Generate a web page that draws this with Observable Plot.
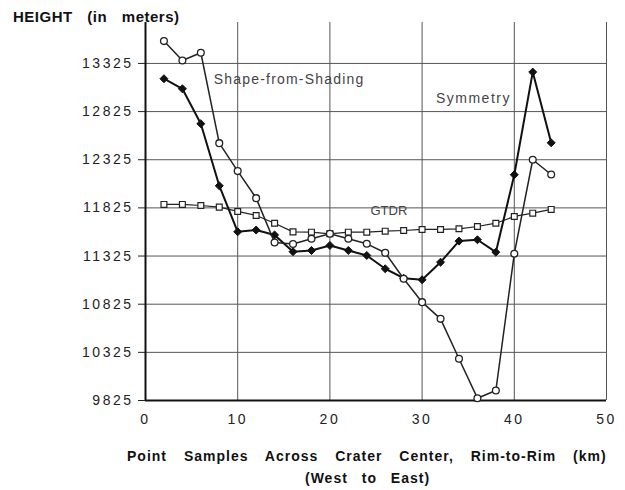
<!DOCTYPE html>
<html>
<head>
<meta charset="utf-8">
<script src="https://cdn.jsdelivr.net/npm/d3@7"></script>
<script src="https://cdn.jsdelivr.net/npm/@observablehq/plot@0.6"></script>
<style>
  html, body { margin: 0; padding: 0; background: #fff; }
  #chart svg { display: block; }
</style>
</head>
<body>
<div id="chart"></div>
<script>
// Sample positions along the profile (km)
const samples = [2, 4, 6, 8, 10, 12, 14, 16, 18, 20, 22, 24, 26, 28, 30, 32, 34, 36, 38, 40, 42, 44];
// Open circles (Shape-from-Shading)
const shadingHeights = [13557, 13356, 13436, 12497, 12207, 11926, 11466, 11450, 11504, 11556, 11504, 11452, 11359, 11089, 10846, 10673, 10258, 9849, 9929, 11349, 12325, 12172];
// Filled diamonds (Symmetry)
const symmetryHeights = [13166, 13062, 12699, 12055, 11577, 11595, 11544, 11370, 11383, 11435, 11383, 11331, 11193, 11095, 11079, 11261, 11480, 11494, 11365, 12169, 13235, 12501];
// Open squares (GTDR)
const gtdrHeights = [11861, 11861, 11850, 11833, 11788, 11746, 11666, 11576, 11573, 11556, 11573, 11573, 11583, 11590, 11601, 11601, 11608, 11632, 11666, 11736, 11770, 11809];

const yTicks = [9825, 10325, 10825, 11325, 11825, 12325, 12825, 13325];
const xTicks = [0, 10, 20, 30, 40, 50];
const xGrid = [10, 20, 30, 40, 50];

const seriesLabels = [
  {text: "Shape-from-Shading", x: 7.4, y: 13160, size: 14, spacing: 1.2},
  {text: "Symmetry", x: 31.5, y: 12960, size: 14, spacing: 1.5},
  {text: "GTDR", x: 24.4, y: 11790, size: 13, spacing: 0}
];

const yTitle = "HEIGHT (in meters)";
const xTitle1 = "Point Samples Across Crater Center, Rim-to-Rim (km)";
const xTitle2 = "(West to East)";

const rows = (ys) => samples.map((x, i) => ({x, y: ys[i]}));
const shading = rows(shadingHeights);
const symmetry = rows(symmetryHeights);
const gtdr = rows(gtdrHeights);

const FONT = "'Liberation Sans', Arial, sans-serif";

const plot = Plot.plot({
  width: 625,
  height: 490,
  marginLeft: 145,
  marginRight: 19,
  marginTop: 22,
  marginBottom: 90,
  style: {fontFamily: FONT, fontSize: "14px", color: "#222", background: "#fff"},
  x: {domain: [0, 50]},
  y: {domain: [9825, 13750]},
  marks: [
    Plot.ruleY(yTicks, {stroke: "#555", strokeWidth: 1}),
    Plot.ruleX(xGrid, {stroke: "#555", strokeWidth: 1}),
    Plot.axisY({ticks: yTicks, tickSize: 7, tickPadding: 5, tickFormat: d => String(d), label: null, fontSize: 14, stroke: "#222"}),
    Plot.axisX({ticks: xTicks, tickSize: 0, tickPadding: 14, label: null, fontSize: 14}),
    Plot.ruleX([0], {stroke: "#111", strokeWidth: 2}),
    Plot.ruleY([9825], {stroke: "#111", strokeWidth: 2}),
    // GTDR
    Plot.line(gtdr, {x: "x", y: "y", stroke: "#222", strokeWidth: 1.2}),
    Plot.dot(gtdr, {x: "x", y: "y", symbol: "square", r: 3.3, fill: "#fff", stroke: "#222", strokeWidth: 1.2}),
    // Symmetry
    Plot.line(symmetry, {x: "x", y: "y", stroke: "#111", strokeWidth: 2}),
    Plot.dot(symmetry, {x: "x", y: "y", symbol: "diamond2", r: 3.6, fill: "#111", stroke: "#111", strokeWidth: 1}),
    // Shape-from-Shading
    Plot.line(shading, {x: "x", y: "y", stroke: "#222", strokeWidth: 1.5}),
    Plot.dot(shading, {x: "x", y: "y", symbol: "circle", r: 3.4, fill: "#fff", stroke: "#222", strokeWidth: 1.3}),
    Plot.text(seriesLabels, {x: "x", y: "y", text: "text", textAnchor: "start", fontSize: "size", fill: "#444"})
  ]
});

const svg = d3.select(plot);
svg.selectAll('g[aria-label="y-axis tick label"] text, g[aria-label="x-axis tick label"] text')
  .style("letter-spacing", "2.5px")
  .attr("fill", "#222");
svg.selectAll('g[aria-label="text"] text')
  .style("letter-spacing", (d, i) => seriesLabels[i].spacing + "px");

const addText = (txt, x, y, size, ls, ws) => svg.append("text")
  .attr("x", x).attr("y", y)
  .attr("text-anchor", "start")
  .attr("font-family", FONT)
  .attr("font-size", size).attr("font-weight", "bold")
  .style("letter-spacing", ls + "px")
  .style("word-spacing", ws + "px")
  .attr("fill", "#111")
  .text(txt);

addText(yTitle, 13, 22, 15, 0.5, 10);
addText(xTitle1, 127, 461, 14, 1, 12);
addText(xTitle2, 305, 483, 14, 1, 9);

document.getElementById("chart").appendChild(plot);
</script>
</body>
</html>
